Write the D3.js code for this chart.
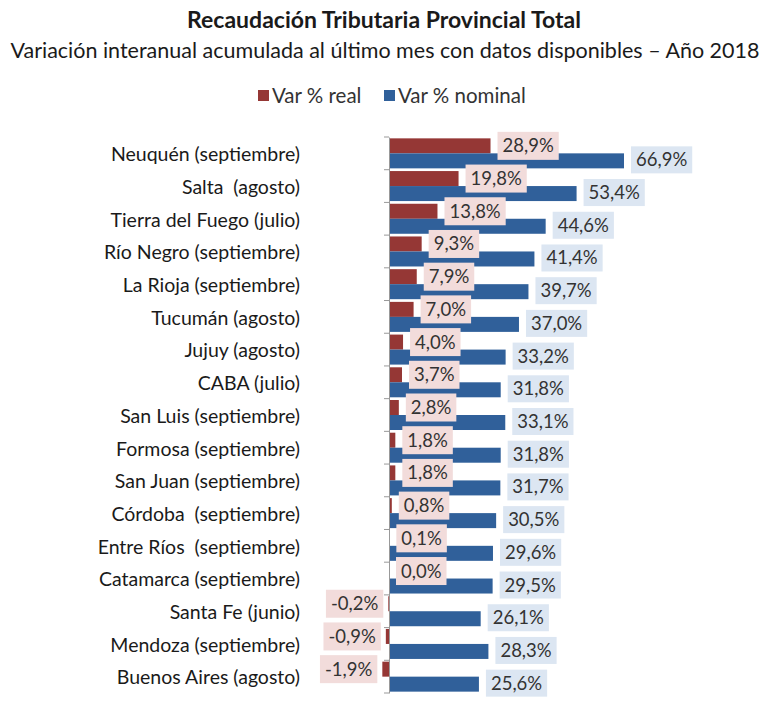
<!DOCTYPE html>
<html><head><meta charset="utf-8">
<script src="https://cdn.jsdelivr.net/npm/d3@7"></script>
<style>body{margin:0;background:#fff;} svg{display:block;}</style>
</head><body>
<svg id="chart" width="768" height="713"></svg>
<script>
const categories = ["Neuquén (septiembre)","Salta  (agosto)","Tierra del Fuego (julio)","Río Negro (septiembre)","La Rioja (septiembre)","Tucumán (agosto)","Jujuy (agosto)","CABA (julio)","San Luis (septiembre)","Formosa (septiembre)","San Juan (septiembre)","Córdoba  (septiembre)","Entre Ríos  (septiembre)","Catamarca (septiembre)","Santa Fe (junio)","Mendoza (septiembre)","Buenos Aires (agosto)"];
const varReal = [28.9,19.8,13.8,9.3,7.9,7.0,4.0,3.7,2.8,1.8,1.8,0.8,0.1,0.0,-0.2,-0.9,-1.9];
const varNominal = [66.9,53.4,44.6,41.4,39.7,37.0,33.2,31.8,33.1,31.8,31.7,30.5,29.6,29.5,26.1,28.3,25.6];
const seriesNames = ["Var % real","Var % nominal"];

const colors = {real:"#953735", nominal:"#30609a"};
const labelBg = {real:"#f2dcdb", nominal:"#dce6f2"};
const font = "Lato, sans-serif";
const textCol = "#333";

const svg = d3.select("#chart");
const x = d3.scaleLinear().domain([0, 66.9]).range([389, 624]);
const y = d3.scaleBand().domain(categories).range([137, 693]);
const sub = d3.scaleBand().domain(["real","nominal"]).range([0, y.bandwidth()]).paddingOuter(0.09);

const fmt = v => d3.format(".1f")(v).replace(".", ",").replace("−","-") + "%";

// Title
svg.append("text").attr("x",384).attr("y",28).attr("text-anchor","middle")
  .attr("font-family",font).attr("font-weight","bold").attr("font-size",23).attr("fill","#1a1a1a")
  .text("Recaudación Tributaria Provincial Total");
svg.append("text").attr("x",385).attr("y",58).attr("text-anchor","middle")
  .attr("font-family",font).attr("font-size",21.5).attr("fill","#1a1a1a")
  .text("Variación interanual acumulada al último mes con datos disponibles – Año 2018");

// Legend
const leg = svg.append("g");
[["real",258],["nominal",384]].forEach(([k,lx],i)=>{
  leg.append("rect").attr("x",lx).attr("y",90).attr("width",11).attr("height",11).attr("fill",colors[k]);
  leg.append("text").attr("x",lx+14).attr("y",103).attr("font-family",font).attr("font-size",20.5).attr("fill",textCol).text(seriesNames[i]);
});

const data = categories.map((c,i)=>({c, real:varReal[i], nominal:varNominal[i]}));

// Bars
["real","nominal"].forEach(k=>{
  svg.append("g").selectAll("rect").data(data).join("rect")
    .attr("x", d=>x(Math.min(0,d[k])))
    .attr("width", d=>Math.max(0.6, Math.abs(x(d[k])-x(0))))
    .attr("y", d=>y(d.c)+sub(k))
    .attr("height", sub.bandwidth())
    .attr("fill", colors[k]);
});

// Axis
const axis = d3.axisLeft(y).tickSize(0).tickFormat("");
const ag = svg.append("g").attr("transform",`translate(${x(0)},0)`).call(axis);
ag.select(".domain").attr("stroke","#999");
const bounds = categories.map(c=>y(c)).concat([y.range()[1]]);
svg.append("g").selectAll("line").data(bounds).join("line")
  .attr("x1",x(0)-5).attr("x2",x(0)).attr("y1",d=>d).attr("y2",d=>d).attr("stroke","#999");

// Category labels
svg.append("g").selectAll("text").data(data).join("text")
  .attr("x",300).attr("y",d=>y(d.c)+y.bandwidth()/2+1)
  .attr("dy","0.35em").attr("text-anchor","end")
  .attr("font-family",font).attr("font-size",19.5).attr("fill","#1a1a1a")
  .attr("xml:space","preserve")
  .text(d=>d.c);

// Value labels
const lg = svg.append("g");
["real","nominal"].forEach(k=>{
  data.forEach(d=>{
    const v = d[k];
    const cy = y(d.c)+sub(k)+sub.bandwidth()/2 + (k==="real"?0:-1);
    const h = k==="real"?28:27;
    const g = lg.append("g");
    const t = g.append("text").attr("font-family",font).attr("font-size",18.5).attr("fill",textCol)
      .attr("dy","0.35em").text(fmt(v));
    const w = t.node().getComputedTextLength();
    const padX = 5;
    const bw = w + padX*2;
    let bx;
    if (v >= 0) bx = x(v) + 7;
    else bx = x(v) - 5 - bw;
    g.insert("rect","text").attr("x",bx).attr("y",cy-h/2).attr("width",bw).attr("height",h).attr("fill",labelBg[k]);
    t.attr("x",bx+padX).attr("y",cy);
  });
});
</script>
</body></html>
